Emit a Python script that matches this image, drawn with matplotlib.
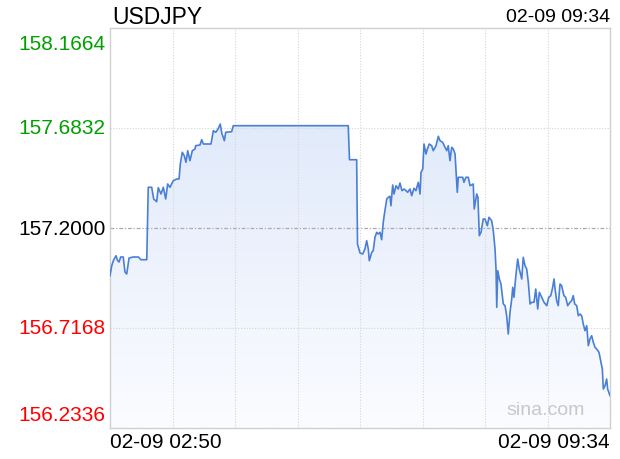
import numpy as np
import matplotlib
matplotlib.use('Agg')
import matplotlib.pyplot as plt
from matplotlib.patches import PathPatch
from matplotlib.path import Path

plt.rcParams['font.family'] = ['Liberation Sans', 'DejaVu Sans']

# хвилини від 02:50 та ціна USDJPY
minutes = [0, 1.4, 2.7, 4.8, 6.2, 7.3, 8.6, 10.7, 12.1, 13.5, 15.4, 18.8, 22.9, 25.0, 29.7,
           30.9, 33.7, 35.3, 37.7, 39.0, 41.2, 43.1, 45.0, 46.6, 48.5, 51.1, 53.9, 55.8, 56.8,
           58.4, 60.0, 61.4, 62.8, 64.6, 66.5, 68.7, 69.2, 72.7, 74.1, 75.4, 81.6, 83.5, 85.4,
           87.0, 89.1, 90.3, 92.4, 93.5, 98.3, 99.6, 192.5, 193.5, 199.3, 200.0, 202.0, 204.2,
           206.0, 207.4, 208.7, 209.5, 211.5, 212.7, 214.1, 215.5, 216.8, 218.2, 219.5, 220.8,
           221.6, 223.6, 224.9, 226.2, 227.0, 228.4, 229.5, 231.1, 232.9, 234.3, 235.9, 237.6,
           239.2, 240.5, 242.4, 243.8, 245.6, 247.2, 249.1, 250.5, 251.3, 252.7, 253.7, 255.3,
           256.4, 258.0, 259.9, 261.2, 263.4, 265.3, 266.6, 268.8, 270.7, 272.1, 273.3, 274.7,
           276.1, 277.4, 278.8, 280.6, 281.4, 282.8, 285.0, 286.0, 287.6, 289.5, 290.9, 293.5,
           294.3, 296.3, 297.3, 298.4, 299.8, 301.6, 303.0, 304.9, 306.2, 308.4, 309.7, 311.1,
           311.9, 312.5, 313.3, 314.6, 315.9, 317.8, 319.2, 320.5, 321.8, 323.2, 324.6, 325.4,
           326.4, 327.8, 329.4, 330.7, 332.7, 333.9, 335.3, 336.7, 338.0, 339.4, 340.7, 342.6,
           344.0, 345.6, 346.9, 348.8, 350.7, 352.9, 354.5, 356.1, 357.4, 358.8, 359.6, 360.9,
           362.2, 363.6, 364.9, 366.8, 368.2, 369.8, 371.7, 373.0, 374.3, 375.5, 377.1, 378.4,
           379.8, 381.1, 382.4, 383.8, 385.2, 386.5, 387.8, 389.2, 390.5, 391.9, 393.2, 395.1,
           396.5, 397.8, 398.6, 400.0, 401.3, 402.1, 404.0]
price = [156.9695, 157.0178, 157.0420, 157.0661, 157.0420, 157.0357, 157.0599, 157.0599,
         156.9874, 156.9777, 157.0550, 157.0599, 157.0599, 157.0468, 157.0468, 157.3967,
         157.3967, 157.3401, 157.3271, 157.3947, 157.3643, 157.3967, 157.3401, 157.4126,
         157.3967, 157.4285, 157.4368, 157.4368, 157.5092, 157.5658, 157.5493, 157.5175,
         157.5735, 157.5252, 157.5735, 157.5817, 157.5977, 157.6011, 157.6267, 157.6059,
         157.6059, 157.6702, 157.6624, 157.6750, 157.7025, 157.6590, 157.6218, 157.6624,
         157.6653, 157.6943, 157.6943, 157.5300, 157.5300, 157.1227, 157.0792, 157.0744,
         157.0985, 157.1386, 157.0985, 157.0420, 157.0826, 157.0903, 157.1551, 157.1792,
         157.1710, 157.1792, 157.1435, 157.2275, 157.2628, 157.3401, 157.3483, 157.3532,
         157.3077, 157.4078, 157.3643, 157.4044, 157.3884, 157.4174, 157.3802, 157.3884,
         157.3802, 157.3725, 157.3884, 157.3561, 157.3918, 157.3802, 157.4208, 157.3643,
         157.4691, 157.4851, 157.6059, 157.5576, 157.5817, 157.6059, 157.5977, 157.5735,
         157.5977, 157.6431, 157.6218, 157.6141, 157.5899, 157.5735, 157.5977, 157.5252,
         157.5899, 157.5817, 157.5576, 157.3725, 157.4450, 157.4450, 157.4450, 157.4208,
         157.4450, 157.4450, 157.4044, 157.4126, 157.2918, 157.3643, 157.3483, 157.1628,
         157.1792, 157.2435, 157.2435, 157.2111, 157.2517, 157.2353, 157.1870, 157.0985,
         157.0019, 156.8168, 156.9937, 156.9536, 156.9294, 156.8328, 156.8246, 156.7762,
         156.6878, 156.7927, 156.8569, 156.9134, 156.8651, 156.9618, 157.0502, 157.0019,
         156.9536, 157.0584, 157.0178, 157.0019, 156.9376, 156.8328, 156.8410, 156.8410,
         156.9052, 156.8086, 156.8893, 156.8651, 156.8410, 156.8246, 156.8651, 156.8729,
         156.9052, 156.9536, 156.9052, 156.8487, 156.8246, 156.9294, 156.9212, 156.8729,
         156.8651, 156.8246, 156.8410, 156.8487, 156.8729, 156.8328, 156.8246, 156.7762,
         156.7844, 156.7762, 156.7361, 156.7038, 156.7279, 156.6313, 156.6636, 156.6796,
         156.6477, 156.6235, 156.6153, 156.5994, 156.5588, 156.5187, 156.4220, 156.4380,
         156.4704, 156.4220, 156.3897]

y_ticks = [158.1664, 157.6832, 157.2000, 156.7168, 156.2336]
y_colors = ['#00a000', '#00a000', '#000000', '#ff0000', '#ff0000']
prev_close = 157.2000
t_start = '02-09 02:50'
t_end = '02-09 09:34'
symbol = 'USDJPY'

fig = plt.figure(figsize=(6.2, 4.6), dpi=100)
ax = fig.add_axes([110 / 620, 1 - 429 / 460, 500 / 620, 400 / 460])
ax.set_xlim(0, 404)
ax.set_ylim(y_ticks[-1], y_ticks[0])

# градієнтна заливка під лінією
grad = np.linspace(0, 1, 256).reshape(-1, 1)
cmap = matplotlib.colors.LinearSegmentedColormap.from_list('g', ['#d9e5f9', '#fbfcff'])
img = ax.imshow(grad, aspect='auto', cmap=cmap, origin='upper',
                extent=[0, 404, y_ticks[-1], y_ticks[0]], zorder=1)
verts = [(minutes[0], y_ticks[-1])] + list(zip(minutes, price)) + [(minutes[-1], y_ticks[-1])]
clip = PathPatch(Path(verts), facecolor='none', edgecolor='none')
ax.add_patch(clip)
img.set_clip_path(clip)

ax.plot(minutes, price, color='#4a7fd6', lw=1.2, zorder=3)

# сітка
for k in range(1, 8):
    ax.axvline(404 * k / 8, color='#d6d6d6', lw=0.8, ls=(0, (1, 1.5)), zorder=2)
for v in y_ticks[1:-1]:
    if v == prev_close:
        ax.axhline(v, color='#aaaaaa', lw=0.9, ls=(0, (3, 1.5, 1, 1.5)), zorder=2)
    else:
        ax.axhline(v, color='#d6d6d6', lw=0.8, ls=(0, (1, 1.5)), zorder=2)

for s in ax.spines.values():
    s.set_color('#d0d0d0')
    s.set_linewidth(1)
ax.set_xticks([])
ax.set_yticks([])

# підписи осі Y
for i, (v, c) in enumerate(zip(y_ticks, y_colors)):
    va = 'center'
    if i == 0:
        va = 'top'
    elif i == len(y_ticks) - 1:
        va = 'bottom'
    off = {'top': -4, 'bottom': 3, 'center': 0}[va]
    ax.annotate('%.4f' % v, xy=(0, v), xytext=(-3, off), textcoords='offset points',
                ha='right', va=va, color=c, fontsize=15)

fig.text(112 / 620, 1 - 17 / 460, symbol, fontsize=16.5, va='center', ha='left')
fig.text(610 / 620, 1 - 18 / 460, t_end, fontsize=14, va='center', ha='right')
fig.text(110 / 620, 1 - 443 / 460, t_start, fontsize=15, va='center', ha='left')
fig.text(610 / 620, 1 - 443 / 460, t_end, fontsize=15, va='center', ha='right')
ax.text(0.95, 0.045, 'sina.com', transform=ax.transAxes, fontsize=14, color='#c8c8c8',
        ha='right', va='center', zorder=4)

fig.savefig('out.png', dpi=100)
